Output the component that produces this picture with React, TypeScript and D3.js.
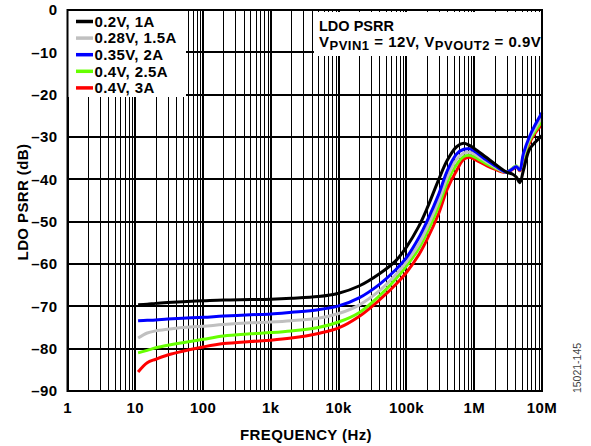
import React from "react";
import * as d3 from "d3";

const freqs = [11, 15, 20, 30, 50, 100, 200, 500, 1e3, 2e3, 5e3, 1e4, 2e4, 4e4, 7e4, 1e5, 1.5e5, 2e5, 3e5, 4e5, 5.5e5, 7e5, 8.5e5, 1e6, 1.5e6, 2e6, 3e6, 3.7e6, 4.2e6, 4.7e6, 5.3e6, 6.5e6, 8e6, 1e7];

const black = [-69.6, -69.5, -69.3, -69.1, -68.9, -68.7, -68.5, -68.4, -68.3, -68.1, -67.7, -66.9, -65.2, -62.3, -59.2, -56.0, -51.3, -47.0, -40.0, -35.5, -32.3, -31.5, -32.0, -32.7, -34.8, -36.3, -38.3, -38.8, -39.5, -40.8, -38.0, -33.0, -31.2, -29.7];
const gray = [-77.5, -76.3, -75.8, -75.4, -75.0, -74.7, -74.3, -73.9, -73.7, -73.4, -72.8, -71.7, -69.7, -66.3, -62.5, -59.5, -55.5, -51.5, -45.0, -39.5, -35.3, -33.8, -33.6, -34.0, -35.8, -37.0, -38.3, -37.4, -36.9, -37.8, -34.5, -30.5, -27.8, -25.3];
const blue = [-73.4, -73.3, -73.2, -73.0, -72.8, -72.6, -72.3, -72.0, -71.8, -71.4, -70.8, -69.9, -68.0, -64.8, -61.3, -58.5, -54.0, -50.0, -43.5, -38.0, -34.0, -32.9, -32.8, -33.3, -35.4, -36.7, -38.3, -37.5, -37.0, -37.8, -34.0, -30.0, -27.0, -24.3];
const green = [-81.0, -80.4, -79.8, -79.2, -78.6, -77.8, -77.0, -76.5, -76.2, -75.8, -75.0, -73.7, -71.5, -67.5, -63.5, -60.5, -56.5, -52.7, -46.3, -40.7, -36.5, -34.6, -34.3, -34.7, -36.3, -37.3, -38.3, -37.3, -36.8, -37.8, -35.0, -31.0, -28.5, -26.3];
const red = [-85.5, -83.3, -82.5, -81.5, -80.6, -79.6, -78.8, -78.3, -78.0, -77.5, -76.4, -75.1, -72.4, -68.5, -64.8, -62.0, -58.0, -54.3, -48.0, -42.3, -37.9, -35.3, -34.8, -35.2, -36.7, -37.6, -38.4, -37.6, -37.0, -38.0, -35.5, -31.5, -29.0, -27.0];

const seriesNames = ["0.2V, 1A", "0.28V, 1.5A", "0.35V, 2A", "0.4V, 2.5A", "0.4V, 3A"];
const seriesColors = ["#000000", "#c0c0c0", "#0000ff", "#66ff00", "#ff0000"];
const seriesValues = [black, gray, blue, green, red];
const drawOrder = [4, 3, 1, 2, 0];

const xTickValues = [1, 10, 100, 1e3, 1e4, 1e5, 1e6, 1e7];
const xTickLabels = ["1", "10", "100", "1k", "10k", "100k", "1M", "10M"];
const yTickValues = [0, -10, -20, -30, -40, -50, -60, -70, -80, -90];
const yTickLabels = ["0", "–10", "–20", "–30", "–40", "–50", "–60", "–70", "–80", "–90"];

const W = 591;
const H = 446;
const L = 67.5, R = 542, T = 10, B = 391;
const FONT = "Arial, 'Liberation Sans', Helvetica, sans-serif";
const FS = 15;
const LS = 0.4;

export default function App() {
  const x = d3.scaleLog().domain([1, 1e7]).range([L, R]);
  const y = d3.scaleLinear().domain([-90, 0]).range([B, T]);
  const px = (v: number) => Math.round(v) + 0.5;

  const minorFreqs: number[] = [];
  for (let e = 0; e < 7; e++) {
    for (let m = 2; m <= 9; m++) minorFreqs.push(m * Math.pow(10, e));
  }

  const line = d3
    .line<number>()
    .x((_, i) => x(freqs[i]))
    .y((v) => y(v))
    .curve(d3.curveCatmullRom.alpha(0.5));

  return (
    <svg width={W} height={H} style={{ position: "absolute", left: 0, top: 0, background: "#fff" }} fontFamily={FONT}>
      <rect x={0} y={0} width={W} height={H} fill="#fff" />
      {/* grid */}
      <g shapeRendering="crispEdges">
        {minorFreqs.map((f) => (
          <line key={"m" + f} x1={px(x(f))} x2={px(x(f))} y1={T} y2={B} stroke="#000" strokeWidth={1} />
        ))}
        {xTickValues.map((f) => (
          <line key={"M" + f} x1={x(f)} x2={x(f)} y1={T} y2={B} stroke="#000" strokeWidth={2} />
        ))}
        {yTickValues.map((v) => (
          <line key={"h" + v} x1={L} x2={R} y1={Math.round(y(v))} y2={Math.round(y(v))} stroke="#000" strokeWidth={2} />
        ))}
      </g>
      {/* legend & title boxes */}
      <rect x={L} y={T} width={186 - L} height={97 - T} fill="#fff" />
      <rect x={314} y={12} width={R - 314} height={56 - 12} fill="#fff" />
      {/* curves */}
      {drawOrder.map((si) => (
        <path key={"s" + si} d={line(seriesValues[si]) || ""} fill="none" stroke={seriesColors[si]} strokeWidth={3} strokeLinejoin="round" />
      ))}
      {/* frame */}
      <rect x={L} y={T} width={R - L} height={B - T} fill="none" stroke="#000" strokeWidth={2} />
      {/* legend */}
      <g fontSize={FS} fontWeight="bold" letterSpacing={LS}>
        {seriesNames.map((n, i) => {
          const cy = 21.5 + i * 16.6;
          return (
            <g key={"lg" + i}>
              <line x1={76} x2={93} y1={cy} y2={cy} stroke={seriesColors[i]} strokeWidth={3.5} />
              <text x={94.5} y={cy + 5.3} fill="#000">{n}</text>
            </g>
          );
        })}
      </g>
      {/* title */}
      <g fontSize={FS} fontWeight="bold">
        <text x={319} y={30.5} fontSize={14.5}>LDO PSRR</text>
        <text x={319} y={47} letterSpacing={0.5}>
          V<tspan fontSize={13} dy={3}>PVIN1</tspan>
          <tspan dy={-3}> = 12V, V</tspan>
          <tspan fontSize={13} dy={3}>PVOUT2</tspan>
          <tspan dy={-3}> = 0.9V</tspan>
        </text>
      </g>
      {/* axes text */}
      <g fontSize={FS} fontWeight="bold" letterSpacing={LS}>
        {yTickValues.map((v, i) => (
          <text key={"yl" + v} x={57.5} y={y(v) + 5.3} textAnchor="end">{yTickLabels[i]}</text>
        ))}
        {xTickValues.map((f, i) => (
          <text key={"xl" + f} x={x(f)} y={413} textAnchor="middle">{xTickLabels[i]}</text>
        ))}
        <text x={306} y={440} textAnchor="middle">FREQUENCY (Hz)</text>
        <text transform="translate(28,202) rotate(-90)" textAnchor="middle">LDO PSRR (dB)</text>
      </g>
      <text transform="translate(581,368) rotate(-90)" fontSize={10.5} fill="#444" textAnchor="middle">15021-145</text>
    </svg>
  );
}
